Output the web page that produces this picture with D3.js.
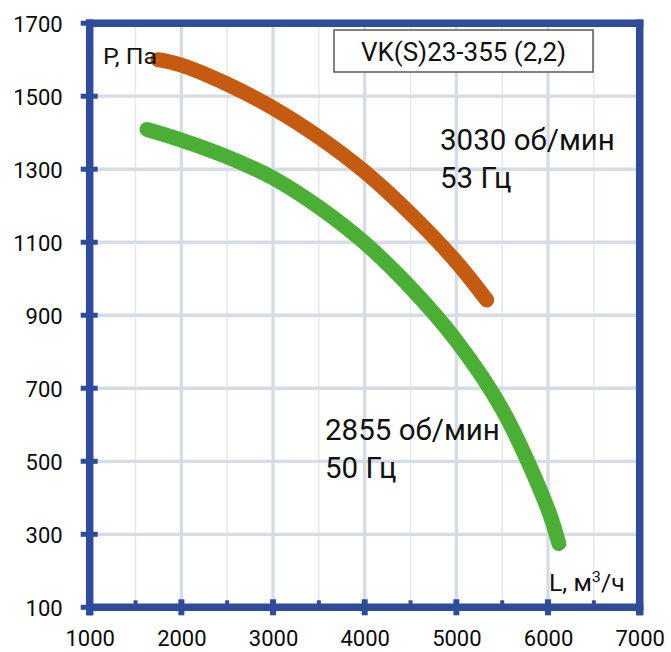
<!DOCTYPE html>
<html><head><meta charset="utf-8">
<script src="https://cdn.jsdelivr.net/npm/d3@7"></script>
<style>html,body{margin:0;padding:0;background:#fff}svg{display:block}</style>
</head><body><svg id="c" width="671" height="652"></svg>
<script>
// Data
const xTicks = [1000, 2000, 3000, 4000, 5000, 6000, 7000];
const xMinor = [1500, 2500, 3500, 4500, 5500, 6500];
const yTicks = [100, 300, 500, 700, 900, 1100, 1300, 1500, 1700];
const flow53 = [1745, 2000, 2500, 3000, 3500, 4000, 4500, 5000, 5331];
const pres53 = [1600, 1585, 1533, 1468, 1388, 1293, 1178, 1046, 942];
const flow50 = [1626, 2000, 2500, 3000, 3500, 4000, 4500, 5000, 5500, 6000, 6117];
const pres50 = [1409, 1380, 1334, 1276, 1196, 1098, 976, 830, 642, 368, 275];
const title = "VK(S)23-355 (2,2)";
const label53 = ["3030 об/мин", "53 Гц"];
const label50 = ["2855 об/мин", "50 Гц"];

const svg = d3.select("#c");
const font = "Roboto, 'Noto Sans', sans-serif";
const x = d3.scaleLinear().domain([1000, 7000]).range([89.7, 639.7]);
const y = d3.scaleLinear().domain([100, 1700]).range([607.3, 23.2]);
const blue = "#2F4C9C";

// grid
svg.append("g").selectAll("line").data(xMinor).join("line")
  .attr("x1", d => x(d)).attr("x2", d => x(d)).attr("y1", y(1700)).attr("y2", y(100))
  .attr("stroke", "#E3E7EE").attr("stroke-width", 1.4);
svg.append("g").selectAll("line").data(xTicks.slice(1, -1)).join("line")
  .attr("x1", d => x(d)).attr("x2", d => x(d)).attr("y1", y(1700)).attr("y2", y(100))
  .attr("stroke", "#D6DCE6").attr("stroke-width", 3.3);
svg.append("g").selectAll("line").data(yTicks.slice(1, -1)).join("line")
  .attr("y1", d => y(d)).attr("y2", d => y(d)).attr("x1", x(1000)).attr("x2", x(7000))
  .attr("stroke", "#D6DCE6").attr("stroke-width", 3.3);

// axes via d3
const yAxis = d3.axisLeft(y).tickValues(yTicks).tickSize(0).tickPadding(27).tickFormat(d3.format("d"));
const gy = svg.append("g").attr("transform", `translate(${x(1000)},0)`).call(yAxis);
gy.select(".domain").remove();
gy.selectAll("text").attr("font-family", font).attr("font-size", 22).attr("fill", "#0a0a0a").attr("dy", "0.36em");

const xAxis = d3.axisBottom(x).tickValues(xTicks).tickSize(0).tickPadding(23).tickFormat(d3.format("d"));
const gx = svg.append("g").attr("transform", `translate(0,${y(100)})`).call(xAxis);
gx.select(".domain").remove();
gx.selectAll("text").attr("font-family", font).attr("font-size", 22).attr("fill", "#0a0a0a");

// frame
const fr = svg.append("g").attr("stroke", blue).attr("stroke-width", 7.5).attr("fill", "none");
fr.append("line").attr("x1", x(1000)).attr("x2", x(1000)).attr("y1", y(1700) - 3.7).attr("y2", y(100) + 8);
fr.append("line").attr("x1", x(1000) - 3.7).attr("x2", x(7000) + 3.7).attr("y1", y(100)).attr("y2", y(100));
fr.append("line").attr("x1", x(1000) - 3.7).attr("x2", x(7000) + 3.7).attr("y1", y(1700)).attr("y2", y(1700));
fr.append("line").attr("x1", x(7000)).attr("x2", x(7000)).attr("y1", y(1700) - 3.7).attr("y2", y(100) + 8);
// ticks
svg.append("g").selectAll("line").data(yTicks).join("line")
  .attr("x1", x(1000) - 9).attr("x2", x(1000) + 8).attr("y1", d => y(d)).attr("y2", d => y(d))
  .attr("stroke", blue).attr("stroke-width", 5);
svg.append("g").selectAll("line").data(xTicks).join("line")
  .attr("y1", y(100) - 8).attr("y2", y(100) + 8).attr("x1", d => x(d)).attr("x2", d => x(d))
  .attr("stroke", blue).attr("stroke-width", 6);
svg.append("g").selectAll("line").data(xMinor).join("line")
  .attr("y1", y(100) - 7).attr("y2", y(100)).attr("x1", d => x(d)).attr("x2", d => x(d))
  .attr("stroke", blue).attr("stroke-width", 4);

// curves
const line = d3.line().x(d => x(d[0])).y(d => y(d[1])).curve(d3.curveCatmullRom.alpha(0.5));
svg.append("path").datum(flow53.map((f, i) => [f, pres53[i]])).attr("d", line)
  .attr("fill", "none").attr("stroke", "#C55A11").attr("stroke-width", 15).attr("stroke-linecap", "round");
svg.append("path").datum(flow50.map((f, i) => [f, pres50[i]])).attr("d", line)
  .attr("fill", "none").attr("stroke", "#4BAE35").attr("stroke-width", 15).attr("stroke-linecap", "round");

// title box
svg.append("rect").attr("x", 334).attr("y", 30).attr("width", 259).attr("height", 42)
  .attr("fill", "#fff").attr("stroke", "#595959").attr("stroke-width", 1.5);
svg.append("text").attr("x", 463.5).attr("y", 61).attr("text-anchor", "middle")
  .attr("font-family", font).attr("font-size", 26).attr("fill", "#111").text(title);

// axis titles
svg.append("text").attr("transform", "translate(103,64) scale(1.13,1)").attr("font-family", font).attr("font-size", 22)
  .attr("fill", "#111").text("P, Па");
const lt = svg.append("text").attr("transform", "translate(549,591) scale(1.08,1)").attr("font-family", font).attr("font-size", 23).attr("fill", "#111");
lt.append("tspan").text("L, м");
lt.append("tspan").attr("font-size", 15).attr("dy", -9).text("3");
lt.append("tspan").attr("dy", 9).text("/ч");

// curve labels
const ann = (lines, x0, y0) => svg.append("g").selectAll("text").data(lines).join("text")
  .attr("x", x0).attr("y", (d, i) => y0 + i * 38).attr("font-family", font).attr("font-size", 29.5)
  .attr("fill", "#111").text(d => d);
ann(label53, 440, 150);
ann(label50, 325, 440);
</script></body></html>
